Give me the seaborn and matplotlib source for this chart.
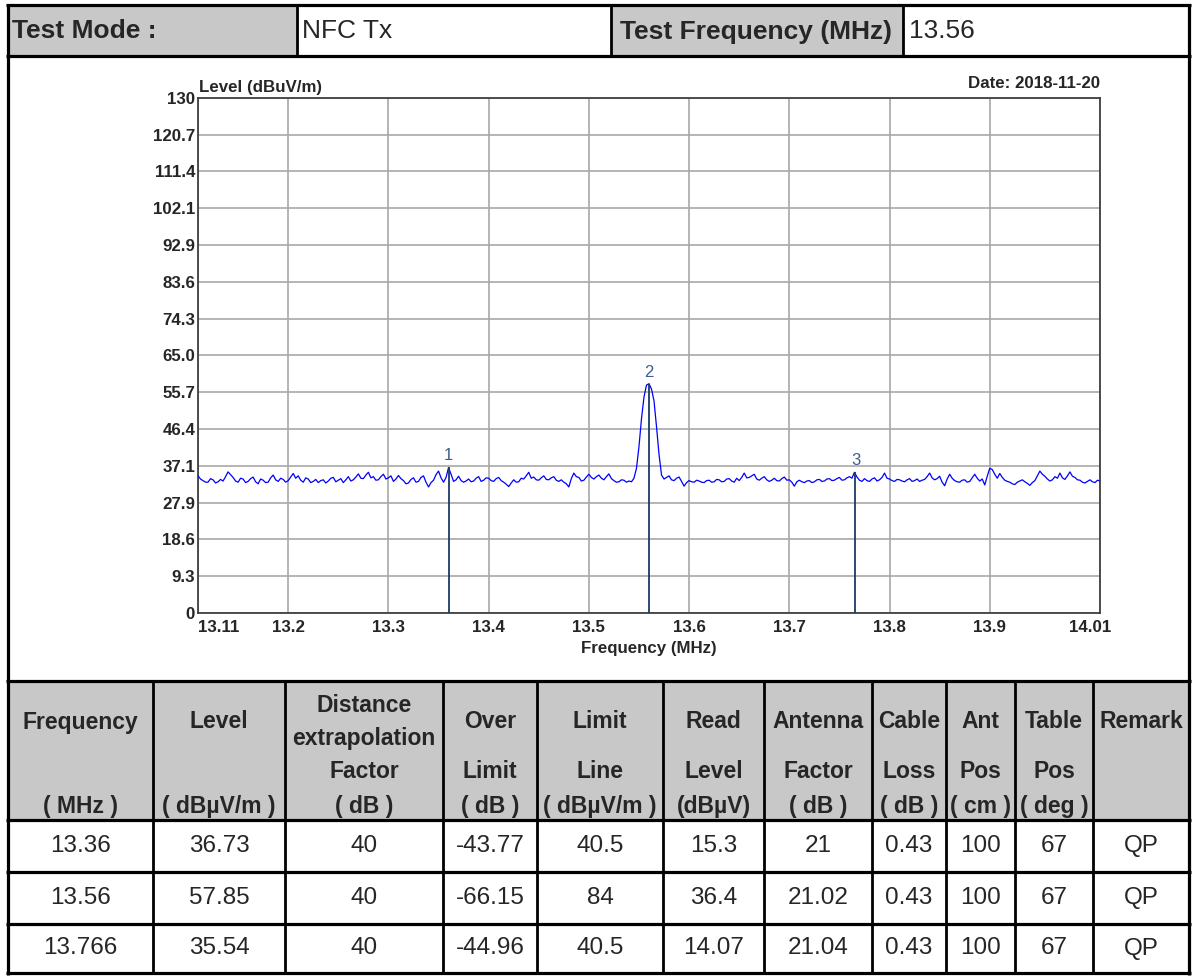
import numpy as np
import pandas as pd
import matplotlib
matplotlib.use("Agg")
import matplotlib.pyplot as plt
import matplotlib.transforms as mtransforms
import seaborn as sns

# ---------------- data ----------------
freq_start, freq_stop, freq_step = 13.11, 14.01, 0.0025
level = [
    34.6, 33.8, 33.4, 33.0, 33.0, 33.9, 33.6, 32.8, 33.1, 33.7, 33.3, 34.4, 35.6, 34.9, 34.2, 33.3, 33.0, 34.0, 33.8, 32.9,
    33.2, 33.9, 34.3, 33.1, 32.6, 33.8, 33.5, 32.9, 33.0, 34.1, 34.8, 33.6, 33.2, 34.0, 33.7, 33.0, 33.4, 34.3, 35.2, 34.0,
    34.6, 33.5, 33.0, 34.1, 33.8, 32.9, 33.2, 33.7, 32.9, 33.4, 33.6, 32.8, 33.3, 34.0, 34.2, 33.1, 33.5, 33.9, 32.9, 33.6,
    34.4, 33.3, 33.6, 34.3, 35.1, 34.0, 33.9, 34.8, 35.5, 34.1, 34.4, 33.5, 33.6, 34.4, 35.0, 33.8, 34.1, 34.6, 33.2, 33.8,
    34.7, 33.9, 33.4, 32.6, 32.8, 33.7, 34.1, 33.0, 33.2, 34.2, 34.6, 33.0, 31.8, 32.9, 33.5, 34.9, 35.8, 34.1, 33.0, 34.2,
    36.7, 35.0, 33.2, 33.6, 34.5, 33.4, 33.0, 33.3, 33.8, 33.1, 33.3, 34.0, 34.4, 33.2, 33.5, 34.1, 34.0, 33.4, 33.2, 33.9,
    34.2, 33.4, 33.0, 32.5, 31.9, 32.8, 33.6, 33.0, 33.1, 34.0, 33.8, 34.6, 35.5, 34.0, 34.3, 33.6, 33.5, 34.1, 34.6, 33.7,
    33.6, 34.1, 34.4, 33.5, 33.2, 33.6, 33.0, 32.6, 31.8, 33.9, 35.3, 34.4, 34.2, 33.3, 33.5, 34.3, 35.0, 34.2, 33.8, 34.4,
    34.8, 34.0, 33.6, 34.4, 35.1, 33.9, 33.4, 33.0, 33.1, 33.6, 33.5, 33.0, 33.3, 33.1, 34.0, 36.5, 42.0, 49.0, 54.5, 57.5,
    57.85, 56.5, 53.5, 47.0, 40.0, 34.8, 33.8, 34.2, 34.6, 33.6, 33.4, 34.0, 34.3, 33.2, 32.0, 32.9, 33.4, 33.1, 33.0, 33.5,
    33.3, 33.0, 32.9, 33.4, 33.5, 33.0, 33.1, 33.7, 33.6, 33.1, 33.2, 33.8, 33.9, 33.3, 33.0, 34.0, 33.4, 34.2, 35.3, 34.1,
    34.2, 34.6, 35.0, 33.8, 33.5, 34.0, 34.4, 33.6, 33.2, 33.5, 34.0, 33.4, 33.3, 33.9, 34.3, 33.5, 33.6, 33.0, 32.0, 33.1,
    33.5, 33.1, 32.9, 33.3, 33.4, 32.9, 33.1, 33.6, 33.7, 33.2, 33.3, 33.8, 33.9, 33.4, 33.5, 33.9, 34.2, 33.5, 33.6, 34.1,
    34.4, 34.0, 35.5, 34.3, 33.5, 33.2, 33.9, 33.4, 33.2, 33.8, 34.1, 33.3, 33.6, 34.2, 35.3, 34.0, 33.8, 33.4, 33.2, 33.7,
    33.6, 33.3, 33.1, 33.6, 33.9, 33.2, 33.4, 33.8, 33.2, 33.5, 33.7, 34.4, 35.3, 34.1, 33.6, 33.9, 34.5, 33.0, 32.1, 33.8,
    35.0, 34.0, 33.4, 33.1, 33.0, 33.5, 33.6, 33.0, 33.2, 34.1, 35.0, 34.0, 33.3, 33.8, 32.3, 34.5, 36.5, 36.2, 35.0, 34.0,
    35.2, 34.2, 33.5, 33.2, 33.0, 32.6, 32.4, 33.0, 33.3, 33.6, 33.1, 32.7, 32.2, 32.9, 33.4, 34.6, 35.8, 35.0, 34.5, 33.8,
    33.3, 33.6, 34.4, 34.0, 35.3, 34.1, 33.7, 34.6, 35.6, 34.5, 34.2, 33.6, 33.5, 33.0, 32.8, 33.2, 33.6, 33.1, 32.9, 33.5,
    33.3,
]
freq = np.round(freq_start + freq_step * np.arange(len(level)), 5)

marker_freq = [13.36, 13.56, 13.766]
marker_level = [36.73, 57.85, 35.54]
marker_ids = ["1", "2", "3"]

y_max = 130
y_tick_labels = ["0", "9.3", "18.6", "27.9", "37.1", "46.4", "55.7", "65.0",
                 "74.3", "83.6", "92.9", "102.1", "111.4", "120.7", "130"]
x_ticks = [13.11, 13.2, 13.3, 13.4, 13.5, 13.6, 13.7, 13.8, 13.9, 14.01]
x_tick_labels = ["13.11", "13.2", "13.3", "13.4", "13.5", "13.6", "13.7",
                 "13.8", "13.9", "14.01"]

test_mode_label = "Test Mode :"
test_mode = "NFC Tx"
test_freq_label = "Test Frequency (MHz)"
test_freq = "13.56"
y_title = "Level (dBuV/m)"
x_title = "Frequency (MHz)"
date_text = "Date: 2018-11-20"

hdr_line1 = ["Frequency", "Level", "Distance\nextrapolation", "Over", "Limit",
             "Read", "Antenna", "Cable", "Ant", "Table", "Remark"]
hdr_line2 = ["", "", "Factor", "Limit", "Line", "Level", "Factor", "Loss",
             "Pos", "Pos", ""]
hdr_line3 = ["( MHz )", "( dBµV/m )", "( dB )", "( dB )", "( dBµV/m )",
             "(dBµV)", "( dB )", "( dB )", "( cm )", "( deg )", ""]

tbl_freq = ["13.36", "13.56", "13.766"]
tbl_level = ["36.73", "57.85", "35.54"]
tbl_dist = ["40", "40", "40"]
tbl_over = ["-43.77", "-66.15", "-44.96"]
tbl_limit = ["40.5", "84", "40.5"]
tbl_read = ["15.3", "36.4", "14.07"]
tbl_antf = ["21", "21.02", "21.04"]
tbl_cable = ["0.43", "0.43", "0.43"]
tbl_antpos = ["100", "100", "100"]
tbl_tablepos = ["67", "67", "67"]
tbl_remark = ["QP", "QP", "QP"]

# ---------------- style ----------------
sns.set_style("white")
plt.rcParams['font.family'] = ['Liberation Sans', 'DejaVu Sans']

W, H = 1194, 976
fig = plt.figure(figsize=(W / 100, H / 100), dpi=100)
fig.patch.set_facecolor("white")

# layout (pixels)
left_x, right_x = 7.5, 1189.0
top_y, hdr_bot = 5.0, 56.0
tbl_top, tbl_hdr_bot = 681.0, 820.0
row_lines = [872.0, 924.0]
bot_y = 973.0
top_cols = [297.0, 611.0, 903.0]
col_edges = [left_x, 153, 285, 443, 537, 663, 764, 872, 946, 1015, 1093, right_x]
gray = "#C8C8C8"
lw_border = 2.3

bg = fig.add_axes([0, 0, 1, 1], zorder=0)
bg.set_xlim(0, W)
bg.set_ylim(H, 0)
bg.axis("off")

# gray cells
bg.add_patch(plt.Rectangle((left_x, top_y), top_cols[0] - left_x, hdr_bot - top_y, color=gray, lw=0))
bg.add_patch(plt.Rectangle((top_cols[1], top_y), top_cols[2] - top_cols[1], hdr_bot - top_y, color=gray, lw=0))
bg.add_patch(plt.Rectangle((left_x, tbl_top), right_x - left_x, tbl_hdr_bot - tbl_top, color=gray, lw=0))

# lines
for yy in [top_y, hdr_bot, tbl_top, tbl_hdr_bot] + row_lines + [bot_y]:
    bg.plot([left_x - 1.5, right_x + 1.5], [yy, yy], color="black", lw=lw_border, solid_capstyle="butt")
for xx in [left_x, right_x]:
    bg.plot([xx, xx], [top_y - 1.5, bot_y + 1.5], color="black", lw=lw_border, solid_capstyle="butt")
for xx in top_cols:
    bg.plot([xx, xx], [top_y, hdr_bot], color="black", lw=2.0, solid_capstyle="butt")
for xx in col_edges[1:-1]:
    bg.plot([xx, xx], [tbl_top, bot_y], color="black", lw=2.0, solid_capstyle="butt")

# header row texts
hy = 31.5
bg.text(12, hy, test_mode_label, ha="left", va="center", fontsize=19, fontweight="bold")
bg.text(302, hy, test_mode, ha="left", va="center", fontsize=19)
bg.text(620, hy, test_freq_label, ha="left", va="center", fontsize=19, fontweight="bold")
bg.text(909, hy, test_freq, ha="left", va="center", fontsize=19)

# table header
centers = [(col_edges[i] + col_edges[i + 1]) / 2 for i in range(len(col_edges) - 1)]
for i, c in enumerate(centers):
    t1 = hdr_line1[i]
    if "\n" in t1:
        a, b = t1.split("\n")
        bg.text(c, 705, a, ha="center", va="center", fontsize=16.5, fontweight="bold")
        bg.text(c, 738, b, ha="center", va="center", fontsize=16.5, fontweight="bold")
    else:
        bg.text(c, 722, t1, ha="center", va="center", fontsize=16.5, fontweight="bold")
    if hdr_line2[i]:
        bg.text(c, 771, hdr_line2[i], ha="center", va="center", fontsize=16.5, fontweight="bold")
    if hdr_line3[i]:
        bg.text(c, 806, hdr_line3[i], ha="center", va="center", fontsize=16.5, fontweight="bold")

table_cols = [tbl_freq, tbl_level, tbl_dist, tbl_over, tbl_limit, tbl_read,
              tbl_antf, tbl_cable, tbl_antpos, tbl_tablepos, tbl_remark]
row_bounds = [tbl_hdr_bot] + row_lines + [bot_y]
for r in range(3):
    cy = (row_bounds[r] + row_bounds[r + 1]) / 2
    for i, c in enumerate(centers):
        bg.text(c, cy, table_cols[i][r], ha="center", va="center", fontsize=17.5)

# ---------------- chart ----------------
ax_l, ax_r, ax_t, ax_b = 198.0, 1100.0, 97.7, 613.0
ax = fig.add_axes([ax_l / W, 1 - ax_b / H, (ax_r - ax_l) / W, (ax_b - ax_t) / H], zorder=2)
ax.set_facecolor("white")

df = pd.DataFrame({"freq": freq, "level": level})
sns.lineplot(data=df, x="freq", y="level", color="#0000FF", lw=0.9, ax=ax, zorder=3)
ax.vlines(marker_freq, 0, marker_level, color="#1B3A66", lw=1.3, zorder=4)
for f, l, t in zip(marker_freq, marker_level, marker_ids):
    ax.annotate(t, (f, l), xytext=(0, 3), textcoords="offset points",
                ha="center", va="bottom", fontsize=12, color="#3C5E8E")

ax.set_xlim(freq_start, freq_stop)
ax.set_ylim(0, y_max)
ax.set_yticks(np.linspace(0, y_max, len(y_tick_labels)))
ax.set_yticklabels(y_tick_labels, fontweight="bold", fontsize=12.2)
ax.set_xticks(x_ticks)
ax.set_xticklabels(x_tick_labels, fontweight="bold", fontsize=12.2)
ax.grid(True, color="#A8A8A8", lw=1.2)
ax.set_axisbelow(True)
ax.tick_params(axis="both", length=0)
ax.tick_params(axis="y", pad=2)
ax.tick_params(axis="x", pad=5)
for s in ax.spines.values():
    s.set_color("#404040")
    s.set_linewidth(1.3)
ax.set_xlabel("")
ax.set_ylabel("")

xl = ax.get_xticklabels()
xl[0].set_ha("left")
xl[-1].set_transform(xl[-1].get_transform() + mtransforms.ScaledTranslation(-10 / 100, 0, fig.dpi_scale_trans))

ax.text(0.5, -0.068, x_title, transform=ax.transAxes, ha="center", va="center",
        fontsize=12.2, fontweight="bold")
ax.annotate(y_title, (0, 1), xycoords="axes fraction", xytext=(1, 4), textcoords="offset points",
            ha="left", va="baseline", fontsize=12.2, fontweight="bold")
ax.annotate(date_text, (1, 1), xycoords="axes fraction", xytext=(0, 7), textcoords="offset points",
            ha="right", va="baseline", fontsize=12.2, fontweight="bold")

fig.savefig("out.png", dpi=100, facecolor="white")
